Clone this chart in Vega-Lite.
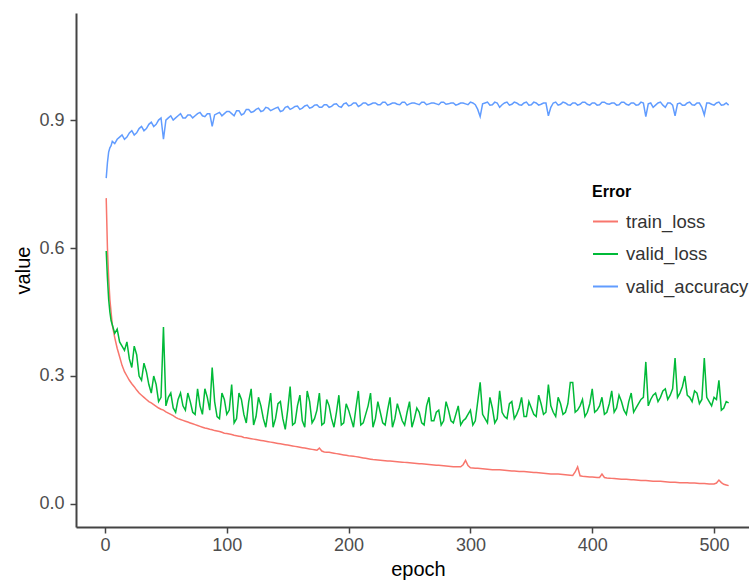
{
  "$schema": "https://vega.github.io/schema/vega-lite/v6.json",
  "width": 673,
  "height": 514,
  "autosize": {"type": "none"},
  "padding": {"left": 76, "top": 13, "right": 0, "bottom": 54},
  "background": "white",
  "config": {"view": {"stroke": null}, "font": "Liberation Sans"},
  "data": {"values": [
    {"epoch":1,"train_loss":0.717,"valid_loss":0.593,"valid_accuracy":0.764},
    {"epoch":2,"train_loss":0.60,"valid_loss":0.53,"valid_accuracy":0.80},
    {"epoch":3,"train_loss":0.53,"valid_loss":0.48,"valid_accuracy":0.825},
    {"epoch":4,"train_loss":0.48,"valid_loss":0.45,"valid_accuracy":0.835},
    {"epoch":5,"train_loss":0.45,"valid_loss":0.43,"valid_accuracy":0.84},
    {"epoch":6,"train_loss":0.42,"valid_loss":0.42,"valid_accuracy":0.85},
    {"epoch":8,"train_loss":0.39,"valid_loss":0.40,"valid_accuracy":0.845},
    {"epoch":12,"train_loss":0.345,"valid_loss":0.38,"valid_accuracy":0.86},
    {"epoch":16,"train_loss":0.31,"valid_loss":0.36,"valid_accuracy":0.855},
    {"epoch":20,"train_loss":0.29,"valid_loss":0.34,"valid_accuracy":0.87},
    {"epoch":24,"train_loss":0.275,"valid_loss":0.37,"valid_accuracy":0.865},
    {"epoch":28,"train_loss":0.26,"valid_loss":0.30,"valid_accuracy":0.88},
    {"epoch":32,"train_loss":0.25,"valid_loss":0.33,"valid_accuracy":0.875},
    {"epoch":36,"train_loss":0.24,"valid_loss":0.28,"valid_accuracy":0.89},
    {"epoch":40,"train_loss":0.233,"valid_loss":0.30,"valid_accuracy":0.885},
    {"epoch":44,"train_loss":0.225,"valid_loss":0.24,"valid_accuracy":0.90},
    {"epoch":48,"train_loss":0.22,"valid_loss":0.415,"valid_accuracy":0.855},
    {"epoch":52,"train_loss":0.213,"valid_loss":0.25,"valid_accuracy":0.905},
    {"epoch":56,"train_loss":0.207,"valid_loss":0.225,"valid_accuracy":0.90},
    {"epoch":60,"train_loss":0.20,"valid_loss":0.245,"valid_accuracy":0.91},
    {"epoch":64,"train_loss":0.196,"valid_loss":0.23,"valid_accuracy":0.905},
    {"epoch":68,"train_loss":0.192,"valid_loss":0.26,"valid_accuracy":0.912},
    {"epoch":72,"train_loss":0.188,"valid_loss":0.215,"valid_accuracy":0.905},
    {"epoch":76,"train_loss":0.184,"valid_loss":0.27,"valid_accuracy":0.915},
    {"epoch":80,"train_loss":0.18,"valid_loss":0.21,"valid_accuracy":0.91},
    {"epoch":84,"train_loss":0.177,"valid_loss":0.25,"valid_accuracy":0.915},
    {"epoch":88,"train_loss":0.174,"valid_loss":0.32,"valid_accuracy":0.885},
    {"epoch":92,"train_loss":0.171,"valid_loss":0.205,"valid_accuracy":0.915},
    {"epoch":96,"train_loss":0.168,"valid_loss":0.26,"valid_accuracy":0.91},
    {"epoch":100,"train_loss":0.165,"valid_loss":0.21,"valid_accuracy":0.92},
    {"epoch":104,"train_loss":0.163,"valid_loss":0.28,"valid_accuracy":0.915},
    {"epoch":108,"train_loss":0.16,"valid_loss":0.20,"valid_accuracy":0.922},
    {"epoch":112,"train_loss":0.158,"valid_loss":0.245,"valid_accuracy":0.912},
    {"epoch":116,"train_loss":0.155,"valid_loss":0.19,"valid_accuracy":0.925},
    {"epoch":120,"train_loss":0.153,"valid_loss":0.27,"valid_accuracy":0.918},
    {"epoch":124,"train_loss":0.151,"valid_loss":0.205,"valid_accuracy":0.925},
    {"epoch":128,"train_loss":0.149,"valid_loss":0.23,"valid_accuracy":0.92},
    {"epoch":132,"train_loss":0.147,"valid_loss":0.18,"valid_accuracy":0.93},
    {"epoch":136,"train_loss":0.145,"valid_loss":0.26,"valid_accuracy":0.922},
    {"epoch":140,"train_loss":0.143,"valid_loss":0.20,"valid_accuracy":0.928},
    {"epoch":144,"train_loss":0.141,"valid_loss":0.24,"valid_accuracy":0.92},
    {"epoch":148,"train_loss":0.139,"valid_loss":0.175,"valid_accuracy":0.93},
    {"epoch":152,"train_loss":0.137,"valid_loss":0.275,"valid_accuracy":0.925},
    {"epoch":156,"train_loss":0.135,"valid_loss":0.19,"valid_accuracy":0.932},
    {"epoch":160,"train_loss":0.133,"valid_loss":0.255,"valid_accuracy":0.925},
    {"epoch":164,"train_loss":0.131,"valid_loss":0.18,"valid_accuracy":0.933},
    {"epoch":168,"train_loss":0.129,"valid_loss":0.24,"valid_accuracy":0.928},
    {"epoch":172,"train_loss":0.127,"valid_loss":0.20,"valid_accuracy":0.935},
    {"epoch":176,"train_loss":0.131,"valid_loss":0.26,"valid_accuracy":0.93},
    {"epoch":180,"train_loss":0.122,"valid_loss":0.19,"valid_accuracy":0.936},
    {"epoch":184,"train_loss":0.121,"valid_loss":0.23,"valid_accuracy":0.93},
    {"epoch":188,"train_loss":0.119,"valid_loss":0.18,"valid_accuracy":0.937},
    {"epoch":192,"train_loss":0.117,"valid_loss":0.255,"valid_accuracy":0.932},
    {"epoch":196,"train_loss":0.115,"valid_loss":0.19,"valid_accuracy":0.938},
    {"epoch":200,"train_loss":0.113,"valid_loss":0.22,"valid_accuracy":0.933},
    {"epoch":204,"train_loss":0.112,"valid_loss":0.18,"valid_accuracy":0.94},
    {"epoch":208,"train_loss":0.11,"valid_loss":0.265,"valid_accuracy":0.932},
    {"epoch":212,"train_loss":0.108,"valid_loss":0.19,"valid_accuracy":0.94},
    {"epoch":216,"train_loss":0.106,"valid_loss":0.23,"valid_accuracy":0.935},
    {"epoch":220,"train_loss":0.104,"valid_loss":0.18,"valid_accuracy":0.94},
    {"epoch":224,"train_loss":0.103,"valid_loss":0.24,"valid_accuracy":0.936},
    {"epoch":228,"train_loss":0.102,"valid_loss":0.19,"valid_accuracy":0.942},
    {"epoch":232,"train_loss":0.101,"valid_loss":0.22,"valid_accuracy":0.935},
    {"epoch":236,"train_loss":0.10,"valid_loss":0.18,"valid_accuracy":0.94},
    {"epoch":240,"train_loss":0.099,"valid_loss":0.235,"valid_accuracy":0.937},
    {"epoch":244,"train_loss":0.098,"valid_loss":0.195,"valid_accuracy":0.942},
    {"epoch":248,"train_loss":0.097,"valid_loss":0.215,"valid_accuracy":0.935},
    {"epoch":252,"train_loss":0.096,"valid_loss":0.18,"valid_accuracy":0.94},
    {"epoch":256,"train_loss":0.095,"valid_loss":0.225,"valid_accuracy":0.938},
    {"epoch":260,"train_loss":0.094,"valid_loss":0.19,"valid_accuracy":0.942},
    {"epoch":264,"train_loss":0.093,"valid_loss":0.23,"valid_accuracy":0.936},
    {"epoch":268,"train_loss":0.092,"valid_loss":0.195,"valid_accuracy":0.94},
    {"epoch":272,"train_loss":0.091,"valid_loss":0.215,"valid_accuracy":0.938},
    {"epoch":276,"train_loss":0.09,"valid_loss":0.185,"valid_accuracy":0.942},
    {"epoch":280,"train_loss":0.089,"valid_loss":0.24,"valid_accuracy":0.937},
    {"epoch":284,"train_loss":0.088,"valid_loss":0.195,"valid_accuracy":0.94},
    {"epoch":288,"train_loss":0.087,"valid_loss":0.21,"valid_accuracy":0.935},
    {"epoch":292,"train_loss":0.087,"valid_loss":0.185,"valid_accuracy":0.94},
    {"epoch":296,"train_loss":0.102,"valid_loss":0.20,"valid_accuracy":0.938},
    {"epoch":300,"train_loss":0.085,"valid_loss":0.22,"valid_accuracy":0.942},
    {"epoch":304,"train_loss":0.084,"valid_loss":0.195,"valid_accuracy":0.936},
    {"epoch":308,"train_loss":0.083,"valid_loss":0.285,"valid_accuracy":0.908},
    {"epoch":312,"train_loss":0.082,"valid_loss":0.20,"valid_accuracy":0.94},
    {"epoch":316,"train_loss":0.081,"valid_loss":0.25,"valid_accuracy":0.935},
    {"epoch":320,"train_loss":0.08,"valid_loss":0.19,"valid_accuracy":0.942},
    {"epoch":324,"train_loss":0.08,"valid_loss":0.265,"valid_accuracy":0.93},
    {"epoch":328,"train_loss":0.079,"valid_loss":0.205,"valid_accuracy":0.94},
    {"epoch":332,"train_loss":0.078,"valid_loss":0.235,"valid_accuracy":0.935},
    {"epoch":336,"train_loss":0.077,"valid_loss":0.20,"valid_accuracy":0.942},
    {"epoch":340,"train_loss":0.076,"valid_loss":0.225,"valid_accuracy":0.936},
    {"epoch":344,"train_loss":0.076,"valid_loss":0.205,"valid_accuracy":0.94},
    {"epoch":348,"train_loss":0.075,"valid_loss":0.24,"valid_accuracy":0.935},
    {"epoch":352,"train_loss":0.074,"valid_loss":0.21,"valid_accuracy":0.942},
    {"epoch":356,"train_loss":0.073,"valid_loss":0.255,"valid_accuracy":0.935},
    {"epoch":360,"train_loss":0.072,"valid_loss":0.21,"valid_accuracy":0.94},
    {"epoch":364,"train_loss":0.071,"valid_loss":0.28,"valid_accuracy":0.91},
    {"epoch":368,"train_loss":0.07,"valid_loss":0.215,"valid_accuracy":0.94},
    {"epoch":372,"train_loss":0.07,"valid_loss":0.25,"valid_accuracy":0.935},
    {"epoch":376,"train_loss":0.069,"valid_loss":0.21,"valid_accuracy":0.942},
    {"epoch":380,"train_loss":0.068,"valid_loss":0.235,"valid_accuracy":0.936},
    {"epoch":384,"train_loss":0.067,"valid_loss":0.285,"valid_accuracy":0.94},
    {"epoch":388,"train_loss":0.087,"valid_loss":0.22,"valid_accuracy":0.935},
    {"epoch":392,"train_loss":0.065,"valid_loss":0.245,"valid_accuracy":0.942},
    {"epoch":396,"train_loss":0.064,"valid_loss":0.215,"valid_accuracy":0.937},
    {"epoch":400,"train_loss":0.063,"valid_loss":0.27,"valid_accuracy":0.94},
    {"epoch":404,"train_loss":0.062,"valid_loss":0.22,"valid_accuracy":0.935},
    {"epoch":408,"train_loss":0.07,"valid_loss":0.25,"valid_accuracy":0.942},
    {"epoch":412,"train_loss":0.061,"valid_loss":0.215,"valid_accuracy":0.938},
    {"epoch":416,"train_loss":0.06,"valid_loss":0.265,"valid_accuracy":0.94},
    {"epoch":420,"train_loss":0.059,"valid_loss":0.225,"valid_accuracy":0.935},
    {"epoch":424,"train_loss":0.058,"valid_loss":0.24,"valid_accuracy":0.942},
    {"epoch":428,"train_loss":0.058,"valid_loss":0.21,"valid_accuracy":0.937},
    {"epoch":432,"train_loss":0.057,"valid_loss":0.26,"valid_accuracy":0.94},
    {"epoch":436,"train_loss":0.056,"valid_loss":0.225,"valid_accuracy":0.935},
    {"epoch":440,"train_loss":0.055,"valid_loss":0.245,"valid_accuracy":0.942},
    {"epoch":444,"train_loss":0.055,"valid_loss":0.333,"valid_accuracy":0.908},
    {"epoch":448,"train_loss":0.054,"valid_loss":0.245,"valid_accuracy":0.94},
    {"epoch":452,"train_loss":0.053,"valid_loss":0.26,"valid_accuracy":0.935},
    {"epoch":456,"train_loss":0.053,"valid_loss":0.25,"valid_accuracy":0.942},
    {"epoch":460,"train_loss":0.052,"valid_loss":0.27,"valid_accuracy":0.93},
    {"epoch":464,"train_loss":0.051,"valid_loss":0.255,"valid_accuracy":0.94},
    {"epoch":468,"train_loss":0.051,"valid_loss":0.342,"valid_accuracy":0.91},
    {"epoch":472,"train_loss":0.05,"valid_loss":0.26,"valid_accuracy":0.94},
    {"epoch":476,"train_loss":0.05,"valid_loss":0.30,"valid_accuracy":0.935},
    {"epoch":480,"train_loss":0.049,"valid_loss":0.25,"valid_accuracy":0.942},
    {"epoch":484,"train_loss":0.049,"valid_loss":0.265,"valid_accuracy":0.935},
    {"epoch":488,"train_loss":0.048,"valid_loss":0.235,"valid_accuracy":0.94},
    {"epoch":492,"train_loss":0.048,"valid_loss":0.342,"valid_accuracy":0.912},
    {"epoch":496,"train_loss":0.047,"valid_loss":0.24,"valid_accuracy":0.94},
    {"epoch":500,"train_loss":0.047,"valid_loss":0.25,"valid_accuracy":0.935},
    {"epoch":504,"train_loss":0.056,"valid_loss":0.29,"valid_accuracy":0.942},
    {"epoch":508,"train_loss":0.046,"valid_loss":0.225,"valid_accuracy":0.936},
    {"epoch":512,"train_loss":0.043,"valid_loss":0.237,"valid_accuracy":0.935},
    {"epoch":10,"train_loss":0.365,"valid_loss":0.41,"valid_accuracy":0.855},
    {"epoch":14,"train_loss":0.325,"valid_loss":0.37,"valid_accuracy":0.865},
    {"epoch":18,"train_loss":0.30,"valid_loss":0.38,"valid_accuracy":0.86},
    {"epoch":22,"train_loss":0.282,"valid_loss":0.32,"valid_accuracy":0.875},
    {"epoch":26,"train_loss":0.267,"valid_loss":0.35,"valid_accuracy":0.87},
    {"epoch":30,"train_loss":0.255,"valid_loss":0.29,"valid_accuracy":0.885},
    {"epoch":34,"train_loss":0.245,"valid_loss":0.31,"valid_accuracy":0.88},
    {"epoch":38,"train_loss":0.237,"valid_loss":0.26,"valid_accuracy":0.895},
    {"epoch":42,"train_loss":0.229,"valid_loss":0.28,"valid_accuracy":0.89},
    {"epoch":46,"train_loss":0.222,"valid_loss":0.25,"valid_accuracy":0.905},
    {"epoch":50,"train_loss":0.216,"valid_loss":0.23,"valid_accuracy":0.90},
    {"epoch":54,"train_loss":0.21,"valid_loss":0.26,"valid_accuracy":0.91},
    {"epoch":58,"train_loss":0.203,"valid_loss":0.215,"valid_accuracy":0.905},
    {"epoch":62,"train_loss":0.198,"valid_loss":0.26,"valid_accuracy":0.915},
    {"epoch":66,"train_loss":0.194,"valid_loss":0.22,"valid_accuracy":0.905},
    {"epoch":70,"train_loss":0.19,"valid_loss":0.24,"valid_accuracy":0.912},
    {"epoch":74,"train_loss":0.186,"valid_loss":0.21,"valid_accuracy":0.91},
    {"epoch":78,"train_loss":0.182,"valid_loss":0.23,"valid_accuracy":0.918},
    {"epoch":82,"train_loss":0.178,"valid_loss":0.27,"valid_accuracy":0.908},
    {"epoch":86,"train_loss":0.175,"valid_loss":0.22,"valid_accuracy":0.915},
    {"epoch":90,"train_loss":0.172,"valid_loss":0.24,"valid_accuracy":0.912},
    {"epoch":94,"train_loss":0.17,"valid_loss":0.20,"valid_accuracy":0.918},
    {"epoch":98,"train_loss":0.166,"valid_loss":0.245,"valid_accuracy":0.915},
    {"epoch":102,"train_loss":0.164,"valid_loss":0.22,"valid_accuracy":0.92},
    {"epoch":106,"train_loss":0.161,"valid_loss":0.19,"valid_accuracy":0.91},
    {"epoch":110,"train_loss":0.159,"valid_loss":0.26,"valid_accuracy":0.922},
    {"epoch":114,"train_loss":0.156,"valid_loss":0.21,"valid_accuracy":0.915},
    {"epoch":118,"train_loss":0.154,"valid_loss":0.24,"valid_accuracy":0.925},
    {"epoch":122,"train_loss":0.152,"valid_loss":0.185,"valid_accuracy":0.92},
    {"epoch":126,"train_loss":0.15,"valid_loss":0.25,"valid_accuracy":0.928},
    {"epoch":130,"train_loss":0.148,"valid_loss":0.20,"valid_accuracy":0.922},
    {"epoch":134,"train_loss":0.146,"valid_loss":0.22,"valid_accuracy":0.928},
    {"epoch":138,"train_loss":0.144,"valid_loss":0.18,"valid_accuracy":0.925},
    {"epoch":142,"train_loss":0.142,"valid_loss":0.235,"valid_accuracy":0.93},
    {"epoch":146,"train_loss":0.14,"valid_loss":0.20,"valid_accuracy":0.922},
    {"epoch":150,"train_loss":0.138,"valid_loss":0.22,"valid_accuracy":0.932},
    {"epoch":154,"train_loss":0.136,"valid_loss":0.185,"valid_accuracy":0.928},
    {"epoch":158,"train_loss":0.134,"valid_loss":0.23,"valid_accuracy":0.933},
    {"epoch":162,"train_loss":0.132,"valid_loss":0.195,"valid_accuracy":0.928},
    {"epoch":166,"train_loss":0.13,"valid_loss":0.265,"valid_accuracy":0.935},
    {"epoch":170,"train_loss":0.128,"valid_loss":0.19,"valid_accuracy":0.93},
    {"epoch":174,"train_loss":0.126,"valid_loss":0.22,"valid_accuracy":0.936},
    {"epoch":178,"train_loss":0.124,"valid_loss":0.185,"valid_accuracy":0.93},
    {"epoch":182,"train_loss":0.1215,"valid_loss":0.245,"valid_accuracy":0.936},
    {"epoch":186,"train_loss":0.12,"valid_loss":0.20,"valid_accuracy":0.932},
    {"epoch":190,"train_loss":0.118,"valid_loss":0.215,"valid_accuracy":0.938},
    {"epoch":194,"train_loss":0.116,"valid_loss":0.185,"valid_accuracy":0.93},
    {"epoch":198,"train_loss":0.114,"valid_loss":0.235,"valid_accuracy":0.94},
    {"epoch":202,"train_loss":0.1125,"valid_loss":0.20,"valid_accuracy":0.935},
    {"epoch":206,"train_loss":0.111,"valid_loss":0.225,"valid_accuracy":0.94},
    {"epoch":210,"train_loss":0.109,"valid_loss":0.185,"valid_accuracy":0.935},
    {"epoch":214,"train_loss":0.107,"valid_loss":0.21,"valid_accuracy":0.94},
    {"epoch":218,"train_loss":0.105,"valid_loss":0.26,"valid_accuracy":0.937},
    {"epoch":222,"train_loss":0.1035,"valid_loss":0.20,"valid_accuracy":0.94},
    {"epoch":226,"train_loss":0.1025,"valid_loss":0.215,"valid_accuracy":0.936},
    {"epoch":230,"train_loss":0.1015,"valid_loss":0.185,"valid_accuracy":0.942},
    {"epoch":234,"train_loss":0.1005,"valid_loss":0.25,"valid_accuracy":0.937},
    {"epoch":238,"train_loss":0.0995,"valid_loss":0.20,"valid_accuracy":0.94},
    {"epoch":242,"train_loss":0.0985,"valid_loss":0.215,"valid_accuracy":0.936},
    {"epoch":246,"train_loss":0.0975,"valid_loss":0.185,"valid_accuracy":0.942},
    {"epoch":250,"train_loss":0.0965,"valid_loss":0.24,"valid_accuracy":0.938},
    {"epoch":254,"train_loss":0.0955,"valid_loss":0.20,"valid_accuracy":0.94},
    {"epoch":258,"train_loss":0.0945,"valid_loss":0.215,"valid_accuracy":0.936},
    {"epoch":262,"train_loss":0.0935,"valid_loss":0.185,"valid_accuracy":0.942},
    {"epoch":266,"train_loss":0.0925,"valid_loss":0.25,"valid_accuracy":0.938},
    {"epoch":270,"train_loss":0.0915,"valid_loss":0.195,"valid_accuracy":0.94},
    {"epoch":274,"train_loss":0.0905,"valid_loss":0.22,"valid_accuracy":0.936},
    {"epoch":278,"train_loss":0.0895,"valid_loss":0.195,"valid_accuracy":0.942},
    {"epoch":282,"train_loss":0.0885,"valid_loss":0.22,"valid_accuracy":0.938},
    {"epoch":286,"train_loss":0.0875,"valid_loss":0.19,"valid_accuracy":0.94},
    {"epoch":290,"train_loss":0.087,"valid_loss":0.23,"valid_accuracy":0.937},
    {"epoch":294,"train_loss":0.092,"valid_loss":0.195,"valid_accuracy":0.94},
    {"epoch":298,"train_loss":0.09,"valid_loss":0.21,"valid_accuracy":0.936},
    {"epoch":302,"train_loss":0.0845,"valid_loss":0.185,"valid_accuracy":0.94},
    {"epoch":306,"train_loss":0.0835,"valid_loss":0.24,"valid_accuracy":0.925},
    {"epoch":310,"train_loss":0.0825,"valid_loss":0.21,"valid_accuracy":0.938},
    {"epoch":314,"train_loss":0.0815,"valid_loss":0.19,"valid_accuracy":0.942},
    {"epoch":318,"train_loss":0.0805,"valid_loss":0.225,"valid_accuracy":0.936},
    {"epoch":322,"train_loss":0.08,"valid_loss":0.20,"valid_accuracy":0.94},
    {"epoch":326,"train_loss":0.0795,"valid_loss":0.215,"valid_accuracy":0.936},
    {"epoch":330,"train_loss":0.0785,"valid_loss":0.20,"valid_accuracy":0.942},
    {"epoch":334,"train_loss":0.0775,"valid_loss":0.24,"valid_accuracy":0.937},
    {"epoch":338,"train_loss":0.0765,"valid_loss":0.21,"valid_accuracy":0.94},
    {"epoch":342,"train_loss":0.076,"valid_loss":0.25,"valid_accuracy":0.935},
    {"epoch":346,"train_loss":0.0755,"valid_loss":0.205,"valid_accuracy":0.942},
    {"epoch":350,"train_loss":0.0745,"valid_loss":0.225,"valid_accuracy":0.936},
    {"epoch":354,"train_loss":0.0735,"valid_loss":0.205,"valid_accuracy":0.94},
    {"epoch":358,"train_loss":0.0725,"valid_loss":0.235,"valid_accuracy":0.937},
    {"epoch":362,"train_loss":0.0715,"valid_loss":0.215,"valid_accuracy":0.94},
    {"epoch":366,"train_loss":0.0705,"valid_loss":0.23,"valid_accuracy":0.93},
    {"epoch":370,"train_loss":0.07,"valid_loss":0.205,"valid_accuracy":0.942},
    {"epoch":374,"train_loss":0.0695,"valid_loss":0.235,"valid_accuracy":0.937},
    {"epoch":378,"train_loss":0.0685,"valid_loss":0.215,"valid_accuracy":0.94},
    {"epoch":382,"train_loss":0.0675,"valid_loss":0.285,"valid_accuracy":0.935},
    {"epoch":386,"train_loss":0.075,"valid_loss":0.215,"valid_accuracy":0.94},
    {"epoch":390,"train_loss":0.066,"valid_loss":0.23,"valid_accuracy":0.937},
    {"epoch":394,"train_loss":0.0645,"valid_loss":0.205,"valid_accuracy":0.942},
    {"epoch":398,"train_loss":0.0635,"valid_loss":0.235,"valid_accuracy":0.935},
    {"epoch":402,"train_loss":0.0625,"valid_loss":0.215,"valid_accuracy":0.94},
    {"epoch":406,"train_loss":0.062,"valid_loss":0.23,"valid_accuracy":0.936},
    {"epoch":410,"train_loss":0.062,"valid_loss":0.21,"valid_accuracy":0.942},
    {"epoch":414,"train_loss":0.0605,"valid_loss":0.235,"valid_accuracy":0.937},
    {"epoch":418,"train_loss":0.0595,"valid_loss":0.215,"valid_accuracy":0.94},
    {"epoch":422,"train_loss":0.0585,"valid_loss":0.255,"valid_accuracy":0.936},
    {"epoch":426,"train_loss":0.058,"valid_loss":0.22,"valid_accuracy":0.942},
    {"epoch":430,"train_loss":0.0575,"valid_loss":0.24,"valid_accuracy":0.935},
    {"epoch":434,"train_loss":0.0565,"valid_loss":0.215,"valid_accuracy":0.94},
    {"epoch":438,"train_loss":0.0555,"valid_loss":0.235,"valid_accuracy":0.936},
    {"epoch":442,"train_loss":0.055,"valid_loss":0.25,"valid_accuracy":0.94},
    {"epoch":446,"train_loss":0.0545,"valid_loss":0.23,"valid_accuracy":0.938},
    {"epoch":450,"train_loss":0.0535,"valid_loss":0.255,"valid_accuracy":0.93},
    {"epoch":454,"train_loss":0.053,"valid_loss":0.24,"valid_accuracy":0.94},
    {"epoch":458,"train_loss":0.0525,"valid_loss":0.265,"valid_accuracy":0.935},
    {"epoch":462,"train_loss":0.0515,"valid_loss":0.245,"valid_accuracy":0.94},
    {"epoch":466,"train_loss":0.051,"valid_loss":0.27,"valid_accuracy":0.935},
    {"epoch":470,"train_loss":0.0505,"valid_loss":0.25,"valid_accuracy":0.938},
    {"epoch":474,"train_loss":0.05,"valid_loss":0.275,"valid_accuracy":0.935},
    {"epoch":478,"train_loss":0.0495,"valid_loss":0.255,"valid_accuracy":0.94},
    {"epoch":482,"train_loss":0.049,"valid_loss":0.24,"valid_accuracy":0.936},
    {"epoch":486,"train_loss":0.0485,"valid_loss":0.26,"valid_accuracy":0.94},
    {"epoch":490,"train_loss":0.048,"valid_loss":0.245,"valid_accuracy":0.93},
    {"epoch":494,"train_loss":0.0475,"valid_loss":0.25,"valid_accuracy":0.94},
    {"epoch":498,"train_loss":0.047,"valid_loss":0.23,"valid_accuracy":0.937},
    {"epoch":502,"train_loss":0.049,"valid_loss":0.245,"valid_accuracy":0.94},
    {"epoch":506,"train_loss":0.05,"valid_loss":0.22,"valid_accuracy":0.935},
    {"epoch":510,"train_loss":0.0445,"valid_loss":0.24,"valid_accuracy":0.94}
  ]},
  "transform": [{"fold": ["train_loss", "valid_loss", "valid_accuracy"], "as": ["Error", "value"]}],
  "mark": {"type": "line", "strokeWidth": 1.5, "clip": true},
  "encoding": {
    "x": {
      "field": "epoch", "type": "quantitative",
      "scale": {"domain": [-23.8, 528.7], "nice": false, "zero": false},
      "axis": {
        "values": [0, 100, 200, 300, 400, 500], "grid": false,
        "domainColor": "#444", "domainWidth": 2, "tickColor": "#444", "tickWidth": 1.5, "tickSize": 6,
        "labelColor": "#4d4d4d", "labelFontSize": 18, "labelPadding": 3,
        "title": "epoch", "titleFontSize": 20, "titleFontWeight": "normal", "titleColor": "#000", "titlePadding": 5, "titleX": 342
      }
    },
    "y": {
      "field": "value", "type": "quantitative",
      "scale": {"domain": [-0.054, 1.151], "nice": false, "zero": false},
      "axis": {
        "values": [0, 0.3, 0.6, 0.9], "format": ".1f", "grid": false,
        "domainColor": "#444", "domainWidth": 2, "tickColor": "#444", "tickWidth": 1.5, "tickSize": 6,
        "labelColor": "#4d4d4d", "labelFontSize": 18, "labelPadding": 6,
        "title": "value", "titleFontSize": 20, "titleFontWeight": "normal", "titleColor": "#000", "titlePadding": 5
      }
    },
    "color": {
      "field": "Error", "type": "nominal",
      "scale": {"domain": ["train_loss", "valid_loss", "valid_accuracy"], "range": ["#F8766D", "#00BA38", "#619CFF"]},
      "legend": {
        "orient": "none", "legendX": 516, "legendY": 171, "padding": 0,
        "title": "Error", "titleFontSize": 16, "titleFontWeight": "bold", "titleColor": "#000", "titlePadding": 8,
        "symbolType": "stroke", "symbolSize": 625, "symbolStrokeWidth": 2,
        "labelFontSize": 18.5, "labelColor": "#333", "labelOffset": 7, "rowPadding": 9.5
      }
    }
  }
}
